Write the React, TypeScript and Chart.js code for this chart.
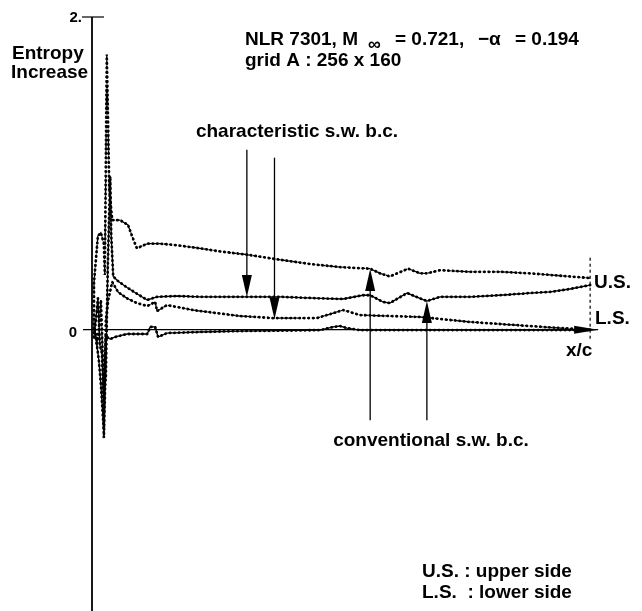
import React, { useEffect, useRef } from "react";
import { Chart, registerables } from "chart.js";
Chart.register(...registerables);

// ---- data (x/c, entropy increase) ----
const upperDashedX = [-0.006, -0.006, 0.002, 0.008, 0.014, 0.016, 0.020, 0.025, 0.031, 0.047, 0.063, 0.071, 0.081, 0.102, 0.128, 0.162, 0.209, 0.250, 0.304, 0.365, 0.432, 0.493, 0.554, 0.574, 0.594, 0.631, 0.655, 0.669, 0.696, 0.757, 0.817, 0.878, 0.919, 0.959, 1.0];
const upperDashedY = [-0.05, 0.30, 0.60, 0.62, 0.55, 0.35, 1.76, 0.90, 0.70, 0.70, 0.67, 0.60, 0.52, 0.55, 0.55, 0.54, 0.52, 0.50, 0.48, 0.45, 0.42, 0.40, 0.39, 0.36, 0.34, 0.39, 0.36, 0.36, 0.38, 0.37, 0.37, 0.36, 0.35, 0.34, 0.33];

const upperSolidX = [-0.004, 0.002, 0.006, 0.010, 0.014, 0.018, 0.022, 0.027, 0.029, 0.033, 0.043, 0.061, 0.081, 0.102, 0.122, 0.162, 0.209, 0.290, 0.371, 0.453, 0.499, 0.539, 0.554, 0.580, 0.594, 0.629, 0.655, 0.669, 0.696, 0.757, 0.817, 0.878, 0.919, 0.959, 1.0];
const upperSolidY = [0.0, 0.20, -0.10, -0.15, -0.45, -0.30, 0.40, 0.98, 0.60, 0.34, 0.31, 0.27, 0.23, 0.19, 0.21, 0.215, 0.21, 0.21, 0.21, 0.20, 0.196, 0.22, 0.22, 0.177, 0.17, 0.234, 0.20, 0.183, 0.21, 0.21, 0.22, 0.234, 0.241, 0.26, 0.285];

const lowerDashedX = [-0.004, 0.0, 0.006, 0.008, 0.012, 0.014, 0.016, 0.018, 0.023, 0.031, 0.043, 0.061, 0.081, 0.102, 0.118, 0.122, 0.142, 0.195, 0.290, 0.357, 0.446, 0.487, 0.499, 0.513, 0.533, 0.655, 0.757, 0.817, 0.878, 0.939, 1.0];
const lowerDashedY = [0.0, -0.10, 0.06, 0.19, -0.20, -0.69, -0.45, 0.06, 0.19, 0.305, 0.24, 0.20, 0.17, 0.151, 0.177, 0.119, 0.157, 0.125, 0.087, 0.074, 0.074, 0.113, 0.125, 0.113, 0.093, 0.081, 0.049, 0.036, 0.023, 0.010, 0.0];

const lowerSolidX = [-0.004, 0.0, 0.004, 0.008, 0.012, 0.014, 0.016, 0.018, 0.023, 0.027, 0.037, 0.061, 0.102, 0.108, 0.118, 0.124, 0.142, 0.209, 0.290, 0.412, 0.453, 0.479, 0.493, 0.507, 0.533, 0.655, 0.817, 1.0];
const lowerSolidY = [0.0, -0.10, -0.20, -0.35, -0.55, -0.64, -0.20, -0.035, -0.054, -0.060, -0.047, -0.028, -0.028, 0.017, 0.017, -0.047, -0.022, -0.015, -0.009, -0.005, -0.003, 0.017, 0.023, 0.010, -0.003, -0.003, -0.003, -0.003];

const yTickValues = [0, 2];
const yTickLabels = ["0", "2."];

// annotation arrows (x/c, from value, tip value)
const charArrowX = [0.304, 0.36];
const charArrowFrom = [1.15, 1.10];
const charArrowTip = [0.209, 0.066];
const convArrowX = [0.554, 0.669];
const convArrowFrom = [-0.58, -0.58];
const convArrowTip = [0.388, 0.183];

const FONT = '"Liberation Sans", Arial, sans-serif';
const F19 = `bold 19px ${FONT}`;

function toPts(xs: number[], ys: number[]) {
  return xs.map((x, i) => ({ x, y: ys[i] }));
}

function lineSets(xs: number[], ys: number[], dashed: boolean) {
  const data = toPts(xs, ys);
  return [
    {
      data,
      borderColor: "#000",
      borderWidth: 1.3,
      borderDash: dashed ? [3, 2] : [],
      pointRadius: 0,
      tension: 0,
      fill: false,
    },
    {
      data,
      borderColor: "#000",
      borderWidth: 2.8,
      borderDash: [0.3, 4.2],
      borderCapStyle: "round",
      pointRadius: 0,
      tension: 0,
      fill: false,
    },
  ];
}

function arrow(ctx: CanvasRenderingContext2D, x: number, yFrom: number, yTip: number) {
  const dir = yTip > yFrom ? 1 : -1;
  const head = 22;
  const half = 5;
  ctx.beginPath();
  ctx.moveTo(x, yFrom);
  ctx.lineTo(x, yTip - dir * head);
  ctx.stroke();
  ctx.beginPath();
  ctx.moveTo(x, yTip);
  ctx.lineTo(x - half, yTip - dir * head);
  ctx.lineTo(x + half, yTip - dir * head);
  ctx.closePath();
  ctx.fill();
}

const decor = {
  id: "decor",
  beforeDatasetsDraw(chart: any) {
    const { ctx, scales } = chart;
    const xs = scales.x, ys = scales.y;
    const x0 = xs.getPixelForValue(xs.min);
    const y0 = ys.getPixelForValue(0);
    ctx.save();
    ctx.strokeStyle = "#000";
    ctx.fillStyle = "#000";
    // y axis
    ctx.lineWidth = 1.8;
    ctx.beginPath();
    ctx.moveTo(x0, ys.getPixelForValue(2));
    ctx.lineTo(x0, chart.chartArea.bottom);
    ctx.stroke();
    // top tick
    ctx.lineWidth = 1.2;
    ctx.beginPath();
    ctx.moveTo(x0 - 10, ys.getPixelForValue(2));
    ctx.lineTo(x0 + 12, ys.getPixelForValue(2));
    ctx.stroke();
    // x axis
    const xEnd = xs.getPixelForValue(1.0) + 8;
    ctx.beginPath();
    ctx.moveTo(x0 - 9, y0);
    ctx.lineTo(xEnd, y0);
    ctx.stroke();
    ctx.beginPath();
    ctx.moveTo(xEnd, y0);
    ctx.lineTo(xEnd - 24, y0 - 4);
    ctx.lineTo(xEnd - 24, y0 + 4);
    ctx.closePath();
    ctx.fill();
    // trailing edge dashed line
    const xt = xs.getPixelForValue(1.0);
    ctx.lineWidth = 1.2;
    ctx.setLineDash([3, 3]);
    ctx.beginPath();
    ctx.moveTo(xt, ys.getPixelForValue(0.46));
    ctx.lineTo(xt, ys.getPixelForValue(-0.06));
    ctx.stroke();
    ctx.setLineDash([]);
    // tick labels
    ctx.font = `bold 15px ${FONT}`;
    ctx.textAlign = "right";
    ctx.textBaseline = "alphabetic";
    yTickValues.forEach((v, i) => {
      const py = ys.getPixelForValue(v);
      if (v === 0) ctx.fillText(yTickLabels[i], x0 - 15, py + 7);
      else ctx.fillText(yTickLabels[i], x0 - 10, py + 5);
    });
    ctx.restore();
  },
  afterDatasetsDraw(chart: any) {
    const { ctx, scales } = chart;
    const xs = scales.x, ys = scales.y;
    ctx.save();
    ctx.strokeStyle = "#000";
    ctx.fillStyle = "#000";
    ctx.lineWidth = 1.3;
    charArrowX.forEach((v, i) => arrow(ctx, xs.getPixelForValue(v), ys.getPixelForValue(charArrowFrom[i]), ys.getPixelForValue(charArrowTip[i])));
    convArrowX.forEach((v, i) => arrow(ctx, xs.getPixelForValue(v), ys.getPixelForValue(convArrowFrom[i]), ys.getPixelForValue(convArrowTip[i])));

    ctx.textBaseline = "alphabetic";
    ctx.font = F19;
    ctx.textAlign = "left";
    ctx.fillText("Entropy", 12, 59);
    ctx.fillText("Increase", 11, 78);
    // title
    ctx.fillText("NLR 7301, M", 245, 45);
    ctx.font = `bold 18px ${FONT}`;
    ctx.fillText("\u221E", 368, 50);
    ctx.font = F19;
    ctx.fillText("= 0.721,", 395, 45);
    ctx.fillText("\u2212\u03B1", 478, 45);
    ctx.fillText("= 0.194", 515, 45);
    ctx.fillText("grid A : 256 x 160", 245, 66);
    ctx.textAlign = "right";
    ctx.fillText("characteristic s.w. b.c.", 398, 137);
    ctx.textAlign = "left";
    ctx.fillText("U.S.", 594, 288);
    ctx.fillText("L.S.", 595, 324);
    ctx.fillText("x/c", 566, 356);
    ctx.textAlign = "center";
    ctx.fillText("conventional s.w. b.c.", 431, 446);
    ctx.textAlign = "left";
    ctx.fillText("U.S. : upper side", 422, 577);
    ctx.fillText("L.S.  : lower side", 422, 598);
    ctx.restore();
  },
};

export default function App() {
  const ref = useRef<HTMLCanvasElement>(null);
  useEffect(() => {
    if (!ref.current) return;
    const chart = new Chart(ref.current, {
      type: "line",
      data: {
        datasets: [
          ...lineSets(upperDashedX, upperDashedY, true),
          ...lineSets(upperSolidX, upperSolidY, false),
          ...lineSets(lowerDashedX, lowerDashedY, true),
          ...lineSets(lowerSolidX, lowerSolidY, false),
        ] as any,
      },
      options: {
        animation: false,
        responsive: false,
        devicePixelRatio: 1,
        layout: { padding: { left: 92, right: 42, top: 17, bottom: 0 } },
        plugins: { legend: { display: false }, tooltip: { enabled: false } },
        scales: {
          x: { type: "linear", min: -0.01, max: 1.02, display: false },
          y: { type: "linear", min: -1.8, max: 2, display: false },
        },
      },
      plugins: [decor],
    });
    return () => chart.destroy();
  }, []);
  return (
    <div style={{ position: "fixed", left: 0, top: 0, width: 642, height: 611, background: "#fff" }}>
      <canvas ref={ref} width={642} height={611} style={{ width: 642, height: 611 }} />
    </div>
  );
}
